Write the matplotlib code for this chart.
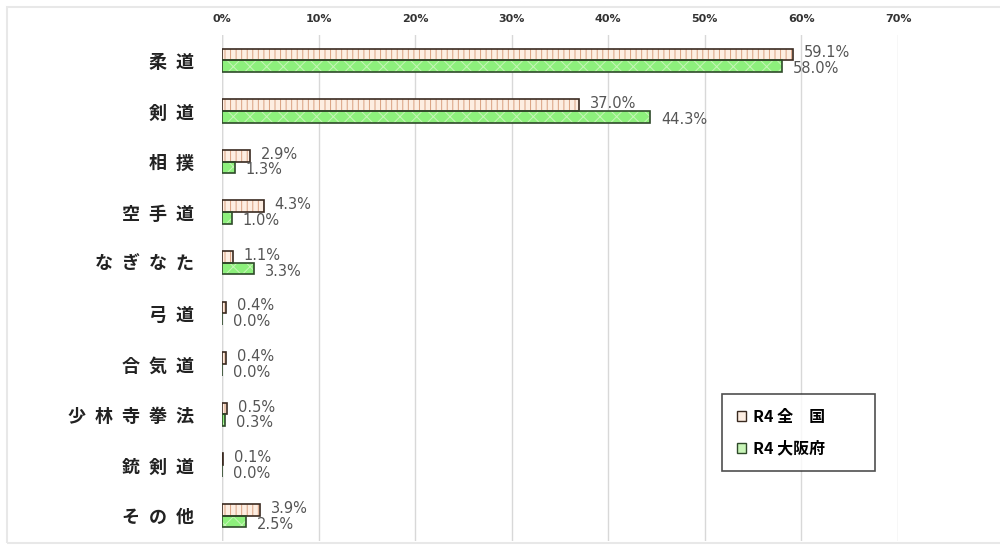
import matplotlib.pyplot as plt
import numpy as np
from matplotlib.patches import Patch, Rectangle

plt.rcParams['font.family'] = ['Noto Sans CJK JP', 'DejaVu Sans']
plt.rcParams['hatch.linewidth'] = 0.7

categories = ['柔道', '剣道', '相撲', '空手道', 'なぎなた', '弓道', '合気道', '少林寺拳法', '銃剣道', 'その他']
zenkoku = [59.1, 37.0, 2.9, 4.3, 1.1, 0.4, 0.4, 0.5, 0.1, 3.9]
osaka = [58.0, 44.3, 1.3, 1.0, 3.3, 0.0, 0.0, 0.3, 0.0, 2.5]
series_names = ['R4 全\u3000国', 'R4 大阪府']
xticks = [0, 10, 20, 30, 40, 50, 60, 70]

fig = plt.figure(figsize=(10, 5.47), dpi=100)
# faint outer frame
fig.patches.append(Rectangle((0.007, 1 - 543 / 547), 1.0, 536 / 547, transform=fig.transFigure,
                             facecolor='none', edgecolor='#e8e8e8', linewidth=1.5))
ax = fig.add_axes([0.222, 0.011, 0.676, 0.925])

y = np.arange(len(categories))
h = 0.23
# fill + hatch, then dark outline on top
ax.barh(y - h / 2, zenkoku, height=h, color='#fdeee2', edgecolor='#d9a080',
        hatch='|||', linewidth=0)
ax.barh(y + h / 2, osaka, height=h, color='#8df07c', edgecolor='#c8f5b8',
        hatch='xx', linewidth=0)
ax.barh(y - h / 2, zenkoku, height=h, facecolor='none', edgecolor='#3a2a20', linewidth=1.2)
ax.barh(y + h / 2, osaka, height=h, facecolor='none', edgecolor='#2f4a2a', linewidth=1.2)

for yy, v in zip(y, zenkoku):
    ax.annotate(f'{v:.1f}%', (v, yy - h / 2 - 0.03), xytext=(8, 0), textcoords='offset points',
                va='center', ha='left', fontsize=10.5, color='#555555', fontfamily='DejaVu Sans')
for yy, v in zip(y, osaka):
    ax.annotate(f'{v:.1f}%', (v, yy + h / 2 + 0.05), xytext=(8, 0), textcoords='offset points',
                va='center', ha='left', fontsize=10.5, color='#555555', fontfamily='DejaVu Sans')

ax.set_xlim(0, 70)
ax.set_ylim(len(categories) - 0.5, -0.5)
ax.set_xticks(xticks)
ax.set_xticklabels([f'{t}%' for t in xticks], fontsize=8, fontweight='bold', color='#333333',
                   fontfamily='DejaVu Sans')
ax.xaxis.tick_top()
ax.tick_params(axis='x', length=0, pad=8)
ax.set_yticks(y)
ax.set_yticklabels(['\u2002'.join(c) for c in categories], fontsize=13, fontweight='bold',
                   color='#222222')
ax.tick_params(axis='y', length=0, pad=20)
ax.grid(axis='x', color='#d8d8d8', linewidth=1)
ax.set_axisbelow(True)
for s in ax.spines.values():
    s.set_visible(False)
ax.axvline(0, color='#cccccc', linewidth=1, zorder=0)

handles = [Patch(facecolor='#fdeee2', edgecolor='#3a2a20', linewidth=1),
           Patch(facecolor='#c8f5b8', edgecolor='#2f4a2a', linewidth=1)]
leg = ax.legend(handles, series_names, loc='upper left', bbox_to_anchor=(0.74, 0.0, 0.226, 0.29),
                mode='expand', frameon=True, fancybox=False, edgecolor='#222222',
                handlelength=0.6, handleheight=0.6, labelspacing=1.0, borderpad=0.9,
                borderaxespad=0, handletextpad=0.4, prop={'weight': 'bold', 'size': 11.5})
leg.get_frame().set_linewidth(1.2)

fig.savefig('out.png', dpi=100)
